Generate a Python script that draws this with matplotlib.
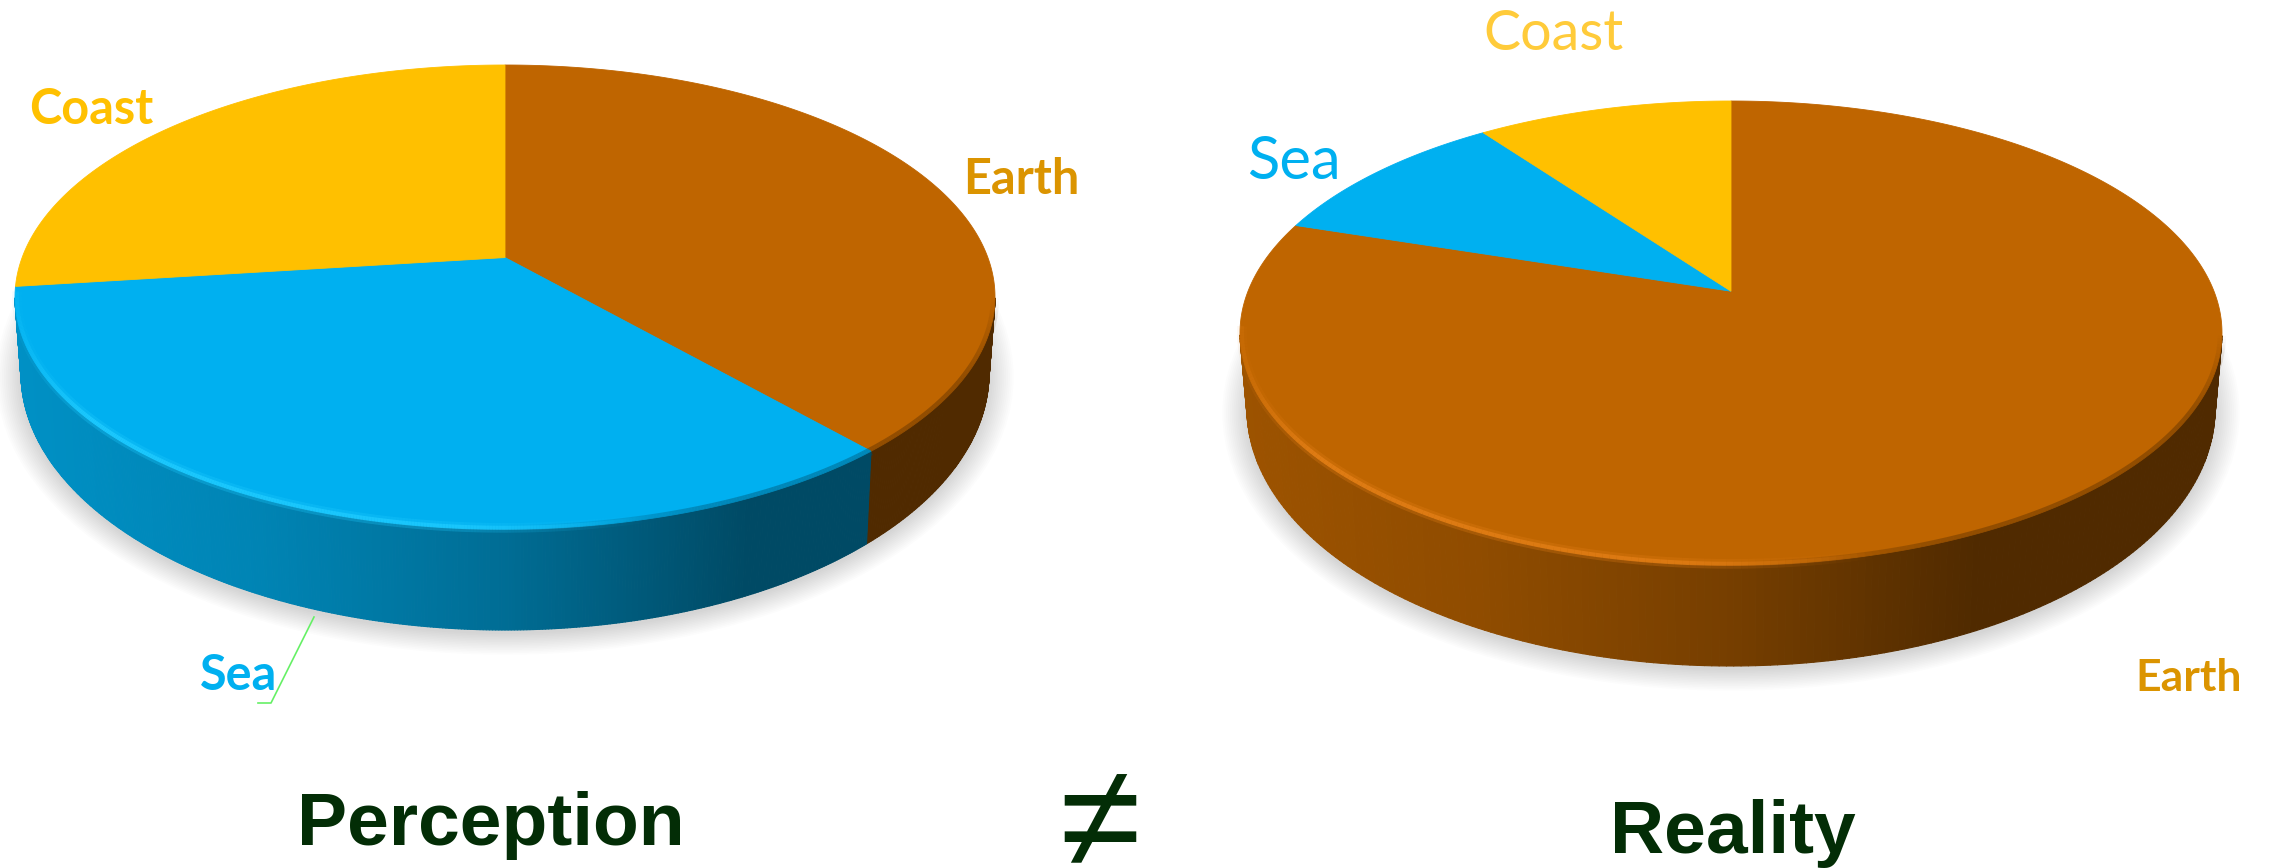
"""Perception vs reality: two tilted pies of earth, sea and coast."""

import matplotlib
matplotlib.use('Agg')
import matplotlib.pyplot as plt
import matplotlib.colors as mcolors
import numpy as np
from matplotlib.collections import LineCollection, PolyCollection
from matplotlib.patches import Ellipse

categories = ['Earth', 'Sea', 'Coast']
perception_values = [38.5, 34.5, 27]
reality_values = [80, 10, 10]

top_colors = ['#BF6500', '#00B0F0', '#FFC000']
shine_colors = ['#E27E16', '#1FCBFF', '#FFD64A']
title_color = '#032D06'


def rim_points(theta, tilt):
    # circle seen in perspective: the pie's apex sits above the ellipse centre
    u, v = np.sin(theta), np.cos(theta)
    denom = 1 + tilt * v
    return u * np.sqrt(1 - tilt ** 2) / denom, (v + tilt) / denom


def wall_color(color, u):
    shade = np.interp(u, [-1, -0.5, 0, 0.5, 1], [0.82, 0.75, 0.62, 0.42, 0.42])
    return np.array(mcolors.to_rgb(color)) * shade


def draw_pie(ax, values, cx, cy, rx, ry, tilt, depth=76, rx_low=484, ry_low=257):
    low_y = cy + depth

    # soft shadow under the disc
    for i in range(14):
        ax.add_patch(Ellipse((cx, low_y + 4), 2 * (rx_low + 1.9 * i), 2 * (ry_low + 1.6 * i),
                             color='black', alpha=0.012, lw=0))

    fracs = np.cumsum([0] + list(values)) / sum(values)
    for i in range(len(values)):
        theta = 2 * np.pi * np.linspace(fracs[i], fracs[i + 1], 400)
        u, v = rim_points(theta, tilt)
        front = v <= 0

        # side wall, only the part facing the viewer
        if front.sum() > 1:
            uf, vf = u[front], v[front]
            top_x, top_y = cx + rx * uf, cy - ry * vf
            low_xs, low_ys = cx + rx_low * uf, low_y - ry_low * vf
            quads, cols = [], []
            for k in range(len(uf) - 1):
                if abs(uf[k + 1] - uf[k]) > 0.2:  # wedge wraps round the back
                    continue
                quads.append([(top_x[k], top_y[k]), (top_x[k + 1], top_y[k + 1]),
                              (low_xs[k + 1], low_ys[k + 1]), (low_xs[k], low_ys[k])])
                cols.append(wall_color(top_colors[i], uf[k]))
            ax.add_collection(PolyCollection(quads, facecolors=cols, edgecolors=cols, linewidths=0.8))

    for i in range(len(values)):
        theta = 2 * np.pi * np.linspace(fracs[i], fracs[i + 1], 400)
        u, v = rim_points(theta, tilt)
        xs = cx + rx * np.r_[0.0, u]
        ys = cy - ry * np.r_[tilt, v]
        ax.fill(xs, ys, color=top_colors[i], lw=0.6)

    # bevel along the front rim
    for i in range(len(values)):
        theta = 2 * np.pi * np.linspace(fracs[i], fracs[i + 1], 400)
        u, v = rim_points(theta, tilt)
        keep = v[:-1] <= 0.02
        if not keep.any():
            continue
        x, y = cx + rx * u, cy - ry * v
        segs = [[(x[k], y[k]), (x[k + 1], y[k + 1])] for k in np.flatnonzero(keep)]
        uf, vf = u[:-1][keep], v[:-1][keep]

        # the dark side of the rim is slightly blurred into the top face
        dark = np.array([np.r_[wall_color(top_colors[i], a), 0.0] for a in uf])
        dark[:, 3] = np.interp(uf, [0, 0.4, 1], [0, 0.4, 0.4]) * np.clip(-vf / 0.35, 0, 1)
        ax.add_collection(LineCollection(segs, colors=dark, linewidths=6, capstyle='butt'))

        xi, yi = cx + 0.996 * rx * u, cy - 0.995 * ry * v
        segs = [[(xi[k], yi[k]), (xi[k + 1], yi[k + 1])] for k in np.flatnonzero(keep)]
        alpha = np.interp(uf, [-1, -0.85, -0.1, 0.3, 1], [0.2, 1, 0.9, 0, 0])
        shine = np.tile(mcolors.to_rgba(shine_colors[i]), (len(segs), 1))
        wide = shine.copy()
        wide[:, 3] = alpha * 0.3
        shine[:, 3] = alpha * 0.85
        ax.add_collection(LineCollection(segs, colors=wide, linewidths=7, capstyle='butt'))
        ax.add_collection(LineCollection(segs, colors=shine, linewidths=3, capstyle='butt'))


fig = plt.figure(figsize=(22.7, 8.68), dpi=100)
ax = fig.add_axes([0, 0, 1, 1])
ax.set_xlim(0, 2270)
ax.set_ylim(868, 0)
ax.axis('off')

draw_pie(ax, perception_values, 505, 297, 490, 232, 0.17)
draw_pie(ax, reality_values, 1731, 333, 491, 232, 0.18)

# left pie labels
ax.text(91, 110, 'Coast', color='#FFC000', family='Lato', weight='bold', fontsize=35, ha='center', va='center')
ax.text(1021, 179, 'Earth', color='#DB9400', family='Lato', weight='bold', fontsize=35, ha='center', va='center')
ax.text(239, 676, 'Sea', color='#00B0F0', family='Lato', weight='bold', fontsize=35, ha='center', va='center')
ax.plot([314, 271, 258], [617, 703, 703], color='#66F066', lw=1.2)

# right pie labels
ax.text(1554, 35, 'Coast', color='#FFCB3A', family='Lato', fontsize=40, ha='center', va='center')
ax.text(1294, 162, 'Sea', color='#00B0F0', family='Lato', fontsize=43, ha='center', va='center')
ax.text(2189, 678, 'Earth', color='#DB9400', family='Lato', weight='bold', fontsize=32, ha='center', va='center')

ax.text(491, 826, 'Perception', color=title_color, family='Liberation Sans', weight='bold',
        fontsize=54, ha='center', va='center')
ax.text(1733, 834, 'Reality', color=title_color, family='Liberation Sans', weight='bold',
        fontsize=54, ha='center', va='center')
ax.text(1100, 829, '\u2260', color=title_color, family='Liberation Sans',
        fontsize=106, ha='center', va='center')

fig.savefig('out.png', dpi=100)
